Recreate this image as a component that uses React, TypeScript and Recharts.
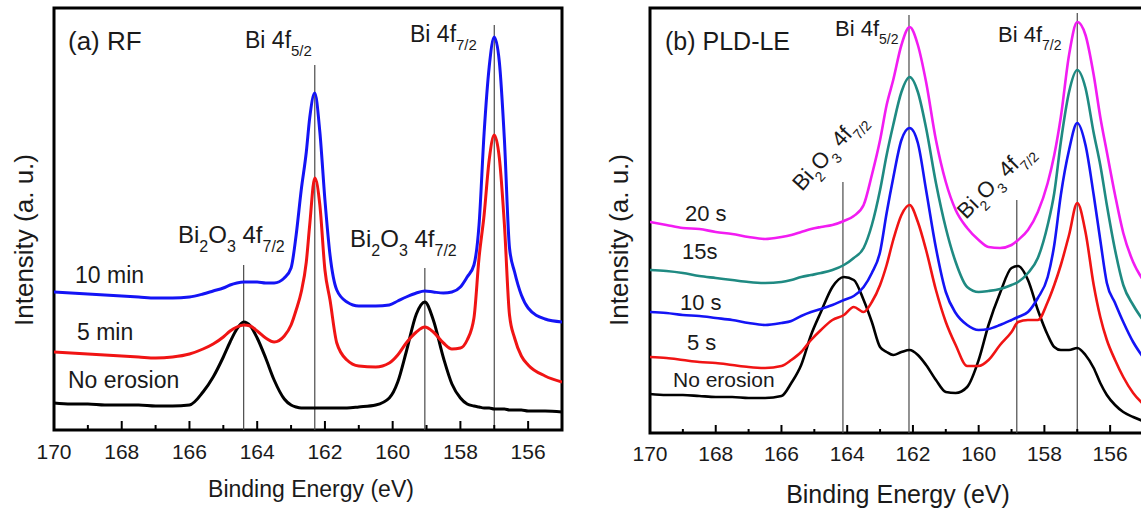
import React from "react";
import { LineChart, Line, XAxis, YAxis, ReferenceLine, ReferenceArea } from "recharts";

const FONT = '"Liberation Sans", Arial, Helvetica, sans-serif';

// (a) RF — binding energy grid (eV) and intensity (a. u.) per erosion time
const rfEnergy = [170, 169.5, 169, 168.5, 168, 167.5, 167, 166.5, 166, 165.6, 165.3, 165.0, 164.8, 164.6, 164.4, 164.2, 164.0, 163.75, 163.5, 163.2, 163.0, 162.85, 162.7, 162.55, 162.45, 162.3, 162.15, 162.0, 161.85, 161.65, 161.35, 161.0, 160.5, 160.1, 159.85, 159.6, 159.3, 159.05, 158.8, 158.5, 158.25, 158.0, 157.8, 157.6, 157.45, 157.3, 157.15, 157.0, 156.85, 156.7, 156.55, 156.4, 156.2, 156.0, 155.5, 155.0];
const rfNoErosion = [27, 26, 26, 25, 25, 25, 24, 24, 25, 38, 53, 73, 88, 101, 108, 104, 92, 72, 50, 31, 25, 23, 22, 22, 22, 22, 22, 22, 22, 22, 22, 23, 25, 32, 48, 78, 116, 128, 110, 72, 46, 32, 26, 24, 23, 22, 22, 21, 21, 21, 20, 20, 20, 19, 19, 18];
const rf5min = [78, 77, 76, 75, 74, 73, 72, 73, 76, 81, 86, 93, 99, 103, 105, 104, 99, 92, 88, 94, 105, 120, 138, 168, 205, 252, 225, 160, 130, 87, 70, 64, 63, 67, 75, 87, 98, 103, 98, 87, 81, 82, 90, 112, 172, 215, 270, 295, 272, 205, 115, 92, 74, 65, 54, 48];
const rf10min = [138, 137, 136, 135, 134, 133, 132, 132, 133, 136, 139, 142, 145, 147, 148, 148, 148, 147, 147, 152, 162, 195, 240, 278, 312, 337, 298, 230, 175, 140, 128, 124, 124, 125, 129, 133, 137, 139, 138, 137, 138, 143, 153, 165, 205, 297, 363, 393, 368, 290, 182, 158, 135, 122, 111, 108];
const rfPeaks = [164.4, 162.3, 159.05, 157.0];
const rfPeakTops = [165, 365, 162, 405];

// (b) PLD-LE
const pldEnergy = [170, 169.5, 169, 168.5, 168, 167.5, 167, 166.5, 166, 165.7, 165.4, 165.1, 164.8, 164.45, 164.1, 163.8, 163.5, 163.25, 163.0, 162.8, 162.6, 162.35, 162.1, 161.85, 161.6, 161.3, 161.0, 160.7, 160.35, 160.0, 159.7, 159.35, 159.0, 158.8, 158.5, 158.2, 157.9, 157.7, 157.5, 157.25, 157.0, 156.75, 156.5, 156.3, 156.1, 155.85, 155.6, 155.3, 155.0];
const pldNoErosion = [39, 38, 38, 37, 36, 36, 35, 35, 37, 50, 68, 98, 121, 146, 156, 153, 133, 111, 86, 81, 78, 81, 83, 78, 68, 53, 41, 40, 46, 73, 108, 140, 165, 167, 153, 123, 98, 86, 83, 83, 85, 78, 65, 50, 38, 28, 21, 16, 12];
const pld5s = [76, 75, 73, 71, 70, 68, 66, 65, 67, 73, 81, 93, 103, 113, 118, 126, 121, 131, 148, 168, 193, 218, 228, 211, 183, 143, 111, 88, 67, 67, 73, 88, 101, 111, 113, 113, 131, 148, 168, 198, 230, 201, 148, 116, 93, 73, 56, 40, 29];
const pld10s = [121, 120, 118, 117, 115, 113, 110, 108, 110, 112, 117, 121, 124, 128, 133, 137, 146, 160, 181, 220, 255, 293, 305, 290, 243, 185, 141, 120, 108, 103, 104, 108, 113, 116, 121, 135, 156, 188, 238, 283, 310, 288, 238, 193, 150, 130, 111, 91, 76];
const pld15s = [163, 162, 160, 157, 155, 153, 151, 150, 151, 153, 156, 158, 160, 163, 168, 175, 185, 208, 243, 278, 308, 341, 356, 341, 305, 250, 205, 171, 146, 141, 142, 144, 148, 151, 160, 175, 208, 240, 291, 341, 363, 345, 300, 268, 228, 183, 148, 128, 113];
const pld20s = [211, 208, 205, 204, 201, 199, 196, 194, 196, 198, 201, 204, 206, 208, 212, 217, 228, 258, 293, 328, 353, 388, 406, 388, 351, 293, 251, 223, 205, 193, 186, 185, 188, 193, 203, 221, 250, 278, 316, 378, 411, 398, 358, 316, 281, 238, 200, 171, 153];
const pldPeaks = [164.13, 162.12, 158.84, 157.0];
const pldPeakTops = [251, 418, 233, 420];

const xTicks = [170, 169, 168, 167, 166, 165, 164, 163, 162, 161, 160, 159, 158, 157, 156, 155];

type Series = { key: string; color: string; values: number[] };

const rfSeries: Series[] = [
  { key: "none", color: "#000000", values: rfNoErosion },
  { key: "m5", color: "#f01414", values: rf5min },
  { key: "m10", color: "#1414f5", values: rf10min },
];

const pldSeries: Series[] = [
  { key: "none", color: "#000000", values: pldNoErosion },
  { key: "s5", color: "#f01414", values: pld5s },
  { key: "s10", color: "#1414f5", values: pld10s },
  { key: "s15", color: "#1f8a82", values: pld15s },
  { key: "s20", color: "#f21cf2", values: pld20s },
];

function makeTick(major: number, minor: number, labelDy: number) {
  return (p: any) => {
    const v = p.payload.value;
    const isMajor = v % 2 === 0;
    return (
      <g>
        <line x1={p.x} x2={p.x} y1={p.y} y2={p.y - (isMajor ? major : minor)} stroke="#000" strokeWidth={2} />
        {isMajor && (
          <text x={p.x} y={p.y + labelDy} textAnchor="middle" fontSize={21} fontFamily={FONT} fill="#1a1a1a">
            {v}
          </text>
        )}
      </g>
    );
  };
}

interface PanelProps {
  energy: number[];
  series: Series[];
  peaks: number[];
  tops: number[];
  yMax: number;
  width: number;
  margin: { top: number; right: number; bottom: number; left: number };
  lineWidth: number;
  tick: (p: any) => React.ReactElement;
}

function Panel({ energy, series, peaks, tops, yMax, width, margin, lineWidth, tick }: PanelProps) {
  const data = energy.map((e, i) => {
    const row: Record<string, number> = { e };
    series.forEach((s) => (row[s.key] = s.values[i]));
    return row;
  });
  return (
    <LineChart width={width} height={511} data={data} margin={margin}>
      <XAxis
        dataKey="e"
        type="number"
        domain={[155, 170]}
        reversed
        allowDataOverflow
        ticks={xTicks}
        interval={0}
        tick={tick}
        tickLine={false}
        axisLine={false}
        tickSize={0}
        tickMargin={0}
        height={30}
      />
      <YAxis hide type="number" domain={[0, yMax]} allowDataOverflow />
      {peaks.map((e, i) => (
        <ReferenceLine key={e} segment={[{ x: e, y: 0 }, { x: e, y: tops[i] }]} stroke="#4a4a4a" strokeWidth={1.2} />
      ))}
      {series.map((s) => (
        <Line
          key={s.key}
          dataKey={s.key}
          type="monotone"
          stroke={s.color}
          strokeWidth={lineWidth}
          dot={false}
          activeDot={false}
          isAnimationActive={false}
        />
      ))}
      <ReferenceArea x1={170} x2={155} y1={0} y2={yMax} fill="none" stroke="#000" strokeWidth={3} />
    </LineChart>
  );
}

function Sub({ children, size, d }: { children: React.ReactNode; size: number; d: number }) {
  return (
    <tspan fontSize={size} dy={d}>
      {children}
    </tspan>
  );
}

function OxideLabel({ x, y, fs, sub, angle }: { x: number; y: number; fs: number; sub: number; angle?: number }) {
  const d = Math.round(fs * 0.36);
  return (
    <text x={x} y={y} fontSize={fs} transform={angle ? `rotate(${angle}, ${x}, ${y})` : undefined}>
      Bi<Sub size={sub} d={d}>2</Sub>
      <tspan dy={-d}>O</tspan>
      <Sub size={sub} d={d}>3</Sub>
      <tspan dy={-d}> 4f</tspan>
      <Sub size={sub} d={d}>7/2</Sub>
    </text>
  );
}

function MetalLabel({ x, y, fs, sub, j }: { x: number; y: number; fs: number; sub: number; j: string }) {
  return (
    <text x={x} y={y} fontSize={fs}>
      Bi 4f<Sub size={sub} d={Math.round(fs * 0.36)}>{j}</Sub>
    </text>
  );
}

export default function App() {
  return (
    <div style={{ position: "absolute", left: 0, top: 0, width: 1141, height: 511, overflow: "hidden", background: "#fff", fontFamily: FONT }}>
      <div style={{ position: "absolute", left: 0, top: 0 }}>
        <Panel
          energy={rfEnergy}
          series={rfSeries}
          peaks={rfPeaks}
          tops={rfPeakTops}
          yMax={422}
          width={580}
          margin={{ top: 8, right: 18, bottom: 51, left: 54 }}
          lineWidth={3}
          tick={makeTick(9, 5, 29)}
        />
      </div>
      <div style={{ position: "absolute", left: 580, top: 0 }}>
        <Panel
          energy={pldEnergy}
          series={pldSeries}
          peaks={pldPeaks}
          tops={pldPeakTops}
          yMax={425}
          width={573}
          margin={{ top: 8, right: 10, bottom: 48, left: 70 }}
          lineWidth={2.6}
          tick={makeTick(8, 4, 28)}
        />
      </div>
      <svg width={1141} height={511} style={{ position: "absolute", left: 0, top: 0, pointerEvents: "none" }} fontFamily={FONT} fill="#1a1a1a">
        {/* panel (a) */}
        <text x={68} y={50} fontSize={26}>(a) RF</text>
        <MetalLabel x={245} y={48} fs={23} sub={15} j="5/2" />
        <MetalLabel x={410} y={42} fs={23} sub={15} j="7/2" />
        <OxideLabel x={178} y={243} fs={24} sub={16} />
        <OxideLabel x={350} y={247} fs={24} sub={16} />
        <text x={75} y={283} fontSize={23}>10 min</text>
        <text x={77} y={340} fontSize={23}>5 min</text>
        <text x={68} y={388} fontSize={23}>No erosion</text>
        <text transform="translate(33, 240) rotate(-90)" textAnchor="middle" fontSize={26}>Intensity (a. u.)</text>
        <text x={311} y={497} textAnchor="middle" fontSize={23}>Binding Energy (eV)</text>

        {/* panel (b) */}
        <text x={665} y={50} fontSize={25}>(b) PLD-LE</text>
        <MetalLabel x={835} y={36} fs={22} sub={14} j="5/2" />
        <MetalLabel x={998} y={42} fs={22} sub={14} j="7/2" />
        <OxideLabel x={802} y={192} fs={22} sub={14} angle={-48} />
        <OxideLabel x={966} y={220} fs={22} sub={14} angle={-45} />
        <text x={685} y={221} fontSize={22}>20 s</text>
        <text x={682} y={259} fontSize={22}>15s</text>
        <text x={680} y={310} fontSize={22}>10 s</text>
        <text x={687} y={350} fontSize={22}>5 s</text>
        <text x={673} y={387} fontSize={21}>No erosion</text>
        <text transform="translate(628, 240) rotate(-90)" textAnchor="middle" fontSize={26}>Intensity (a. u.)</text>
        <text x={898} y={503} textAnchor="middle" fontSize={25}>Binding Energy (eV)</text>
      </svg>
    </div>
  );
}
